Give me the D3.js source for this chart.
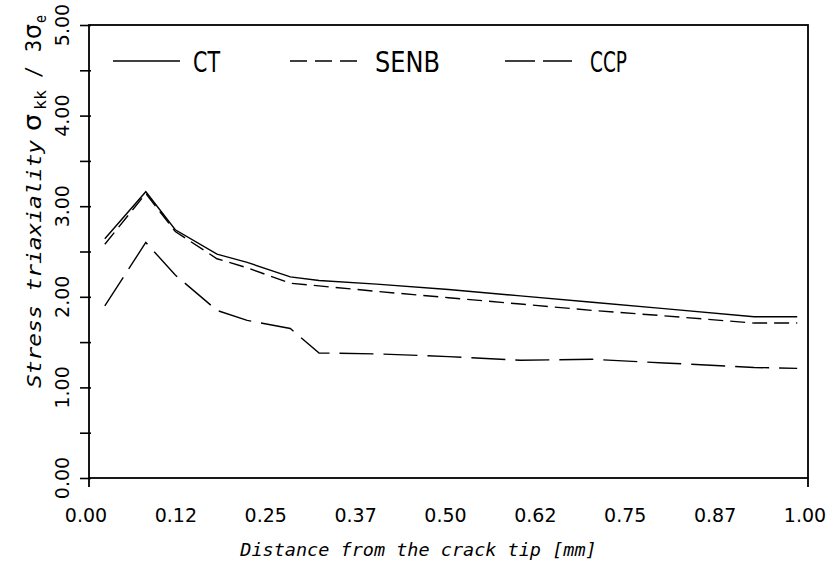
<!DOCTYPE html>
<html>
<head>
<meta charset="utf-8">
<script src="https://cdn.jsdelivr.net/npm/d3@7/dist/d3.min.js"></script>
<style>
  body { margin: 0; background: #fff; }
  svg { display: block; }
</style>
</head>
<body>
<svg id="chart" width="838" height="561"></svg>
<script>
// distance from the crack tip [mm]
const xDist = [0.022, 0.079, 0.12, 0.178, 0.22, 0.28, 0.32, 0.40, 0.50, 0.60, 0.70, 0.80, 0.925, 0.985];
// stress triaxiality values
const ctVals   = [2.64, 3.16, 2.74, 2.47, 2.38, 2.22, 2.18, 2.14, 2.08, 2.01, 1.94, 1.87, 1.78, 1.78];
const senbVals = [2.58, 3.14, 2.72, 2.42, 2.32, 2.15, 2.12, 2.06, 1.99, 1.92, 1.85, 1.79, 1.71, 1.71];
const ccpVals  = [1.90, 2.60, 2.24, 1.85, 1.74, 1.65, 1.38, 1.37, 1.34, 1.30, 1.31, 1.27, 1.22, 1.21];

const xTickLabels = ['0.00', '0.12', '0.25', '0.37', '0.50', '0.62', '0.75', '0.87', '1.00'];
const yTickLabels = ['0.00', '1.00', '2.00', '3.00', '4.00', '5.00'];

const seriesNames = ['CT', 'SENB', 'CCP'];

const svg = d3.select('#chart');
const m = { left: 89, right: 808, top: 25, bottom: 478 };

const x = d3.scaleLinear().domain([0, 1]).range([m.left, m.right]);
const y = d3.scaleLinear().domain([0, 5]).range([m.bottom, m.top]);

// dash styles per series
const dashes = { CT: null, SENB: '15,7', CCP: '34,10' };

// frame
svg.append('rect')
    .attr('x', m.left).attr('y', m.top)
    .attr('width', m.right - m.left).attr('height', m.bottom - m.top)
    .style('fill', 'none')
    .style('stroke', '#000')
    .style('stroke-width', 1.8);

// overhang below bottom corners
[m.left, m.right].forEach(px => {
    svg.append('line')
        .attr('x1', px).attr('x2', px)
        .attr('y1', m.bottom).attr('y2', m.bottom + 9)
        .style('stroke', '#000').style('stroke-width', 1.8);
});

// left axis ticks (every 0.5), labels every 1.00
const yAxis = d3.axisLeft(y)
    .tickValues(d3.range(0, 5.01, 0.5))
    .tickSize(9)
    .tickFormat('');
const yg = svg.append('g')
    .attr('transform', `translate(${m.left},0)`)
    .call(yAxis);
yg.select('.domain').remove();
yg.selectAll('.tick line')
    .attr('x2', -9).attr('x1', 2)
    .style('stroke-width', 1.6);

svg.append('g').selectAll('text')
    .data(yTickLabels)
    .join('text')
    .attr('transform', d => `translate(69,${y(+d)}) rotate(-90)`)
    .attr('text-anchor', 'middle')
    .style('font-family', 'DejaVu Sans')
    .style('font-size', '19px')
    .text(d => d);

// bottom tick labels (no tick marks)
svg.append('g').selectAll('text')
    .data(xTickLabels)
    .join('text')
    .attr('x', (d, i) => x(i / 8) - 3)
    .attr('y', 522)
    .attr('text-anchor', 'middle')
    .style('font-family', 'DejaVu Sans')
    .style('font-size', '19px')
    .text(d => d);

// axis titles
svg.append('text')
    .attr('x', (m.left + m.right) / 2 - 30)
    .attr('y', 556)
    .attr('text-anchor', 'middle')
    .style('font-family', 'DejaVu Sans Mono')
    .style('font-style', 'italic')
    .style('font-size', '18.5px')
    .text('Distance from the crack tip [mm]');

// y title, pieces placed along the rotated baseline
const yTitleParts = [
    { t: 'Stress triaxiality', pos: 388, len: 248, size: 20, italic: true, shift: 0 },
    { t: 'σ', pos: 131, len: 17, size: 24, italic: false, shift: 0 },
    { t: 'kk', pos: 110, len: 20, size: 15, italic: false, shift: 5 },
    { t: '/', pos: 78, len: 12, size: 22, italic: false, shift: 0 },
    { t: '3', pos: 52, len: 12, size: 22, italic: false, shift: 0 },
    { t: 'σ', pos: 39, len: 15, size: 24, italic: false, shift: 0 },
    { t: 'e', pos: 23, len: 8, size: 15, italic: false, shift: 5 }
];
svg.append('g').selectAll('text')
    .data(yTitleParts)
    .join('text')
    .attr('transform', d => `translate(${41 + d.shift},${d.pos}) rotate(-90)`)
    .attr('textLength', d => d.len)
    .attr('lengthAdjust', 'spacingAndGlyphs')
    .style('font-family', d => d.t === 'σ' ? 'DejaVu Sans' : 'DejaVu Sans Mono')
    .style('font-style', d => d.italic ? 'italic' : 'normal')
    .style('font-size', d => d.size + 'px')
    .text(d => d.t);

// series lines
const line = d3.line()
    .x((d, i) => x(xDist[i]))
    .y(d => y(d));

const seriesData = { CT: ctVals, SENB: senbVals, CCP: ccpVals };

seriesNames.forEach(name => {
    svg.append('path')
        .datum(seriesData[name])
        .attr('d', line)
        .style('fill', 'none')
        .style('stroke', '#000')
        .style('stroke-width', 1.4)
        .style('stroke-dasharray', dashes[name]);
});

// legend
const legendPos = [
    { name: 'CT', x1: 113, tx: 193, w: 27 },
    { name: 'SENB', x1: 290, tx: 375, w: 65 },
    { name: 'CCP', x1: 505, tx: 590, w: 37 }
];
legendPos.forEach(l => {
    svg.append('line')
        .attr('x1', l.x1).attr('x2', l.x1 + 67)
        .attr('y1', 61).attr('y2', 61)
        .style('stroke', '#000')
        .style('stroke-width', 1.5)
        .style('stroke-dasharray', l.name === 'SENB' ? '17,8' : (l.name === 'CCP' ? '30,8' : null));
    svg.append('text')
        .attr('x', l.tx).attr('y', 72)
        .attr('textLength', l.w)
        .attr('lengthAdjust', 'spacingAndGlyphs')
        .style('font-family', 'DejaVu Sans')
        .style('font-size', '29px')
        .text(l.name);
});
</script>
</body>
</html>
